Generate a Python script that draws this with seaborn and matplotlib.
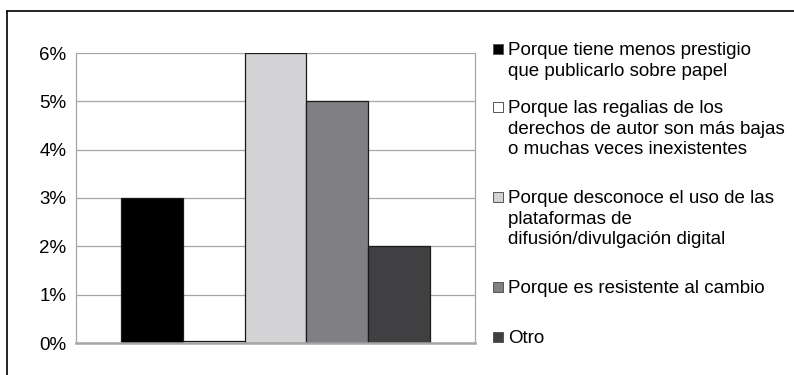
import matplotlib
matplotlib.use("Agg")
import matplotlib.pyplot as plt
from matplotlib.lines import Line2D
from matplotlib.patches import Rectangle
from matplotlib.ticker import FuncFormatter
import seaborn as sns
import pandas as pd

# Reasons (one bar each) and their share of respondents, in percent
motivos = [
    "Porque tiene menos prestigio\nque publicarlo sobre papel",
    "Porque las regalias de los\nderechos de autor son más bajas\no muchas veces inexistentes",
    "Porque desconoce el uso de las\nplataformas de\ndifusión/divulgación digital",
    "Porque es resistente al cambio",
    "Otro",
]
porcentajes = [3, 0.05, 6, 5, 2]
colores = ["#000000", "#ffffff", "#d3d3d5", "#808084", "#404042"]
yticks = [0, 1, 2, 3, 4, 5, 6]

sns.set_theme(style="white")
plt.rcParams["font.family"] = ["Liberation Sans", "DejaVu Sans"]

df = pd.DataFrame({"grupo": [""] * len(motivos), "motivo": motivos, "pct": porcentajes})

W, H = 794, 375
fig = plt.figure(figsize=(W / 100, H / 100), dpi=100)
ax = fig.add_axes([76 / W, 1 - 343 / H, (475 - 76) / W, (343 - 53) / H])

sns.barplot(
    data=df, x="grupo", y="pct", hue="motivo", hue_order=motivos,
    palette=dict(zip(motivos, colores)), width=0.772, dodge=True,
    edgecolor="#1a1a1a", linewidth=0.9, legend=False, ax=ax, saturation=1,
)

ax.set_xlim(-0.5, 0.5)
ax.set_ylim(0, 6)
ax.set_yticks(yticks)
ax.yaxis.set_major_formatter(FuncFormatter(lambda v, _: f"{v:.0f}%"))
ax.set_xticks([])
ax.set_xlabel("")
ax.set_ylabel("")
ax.tick_params(axis="y", length=0, pad=7, labelsize=13.5, colors="#000000")
ax.yaxis.grid(True, color="#a6a6a6", linewidth=0.9)
ax.set_axisbelow(True)
for side in ["left", "right"]:
    ax.spines[side].set_visible(True)
    ax.spines[side].set_color("#a6a6a6")
    ax.spines[side].set_linewidth(0.9)
ax.spines["top"].set_visible(False)
ax.spines["bottom"].set_color("#a6a6a6")
ax.spines["bottom"].set_linewidth(1.8)

# Frame lines along the top and left edges of the chart
fig.add_artist(Line2D([7 / W, 1], [1 - 11 / H, 1 - 11 / H], color="black", linewidth=1.2))
fig.add_artist(Line2D([7 / W, 7 / W], [1 - 11 / H, 0], color="black", linewidth=1.2))

# Legend entries: swatch beside the first line of each label
centros = [49, 107, 197, 287, 337]
for motivo, color, yc in zip(motivos, colores, centros):
    fig.add_artist(Rectangle(
        (493 / W, 1 - (yc + 5) / H), 10 / W, 10 / H,
        facecolor=color, edgecolor="#555555", linewidth=0.7,
        transform=fig.transFigure,
    ))
    fig.text(508 / W, 1 - (yc - 7) / H, motivo, fontsize=13.5, va="top",
             ha="left", color="#000000", linespacing=1.28)

fig.savefig("out.png", dpi=100)
